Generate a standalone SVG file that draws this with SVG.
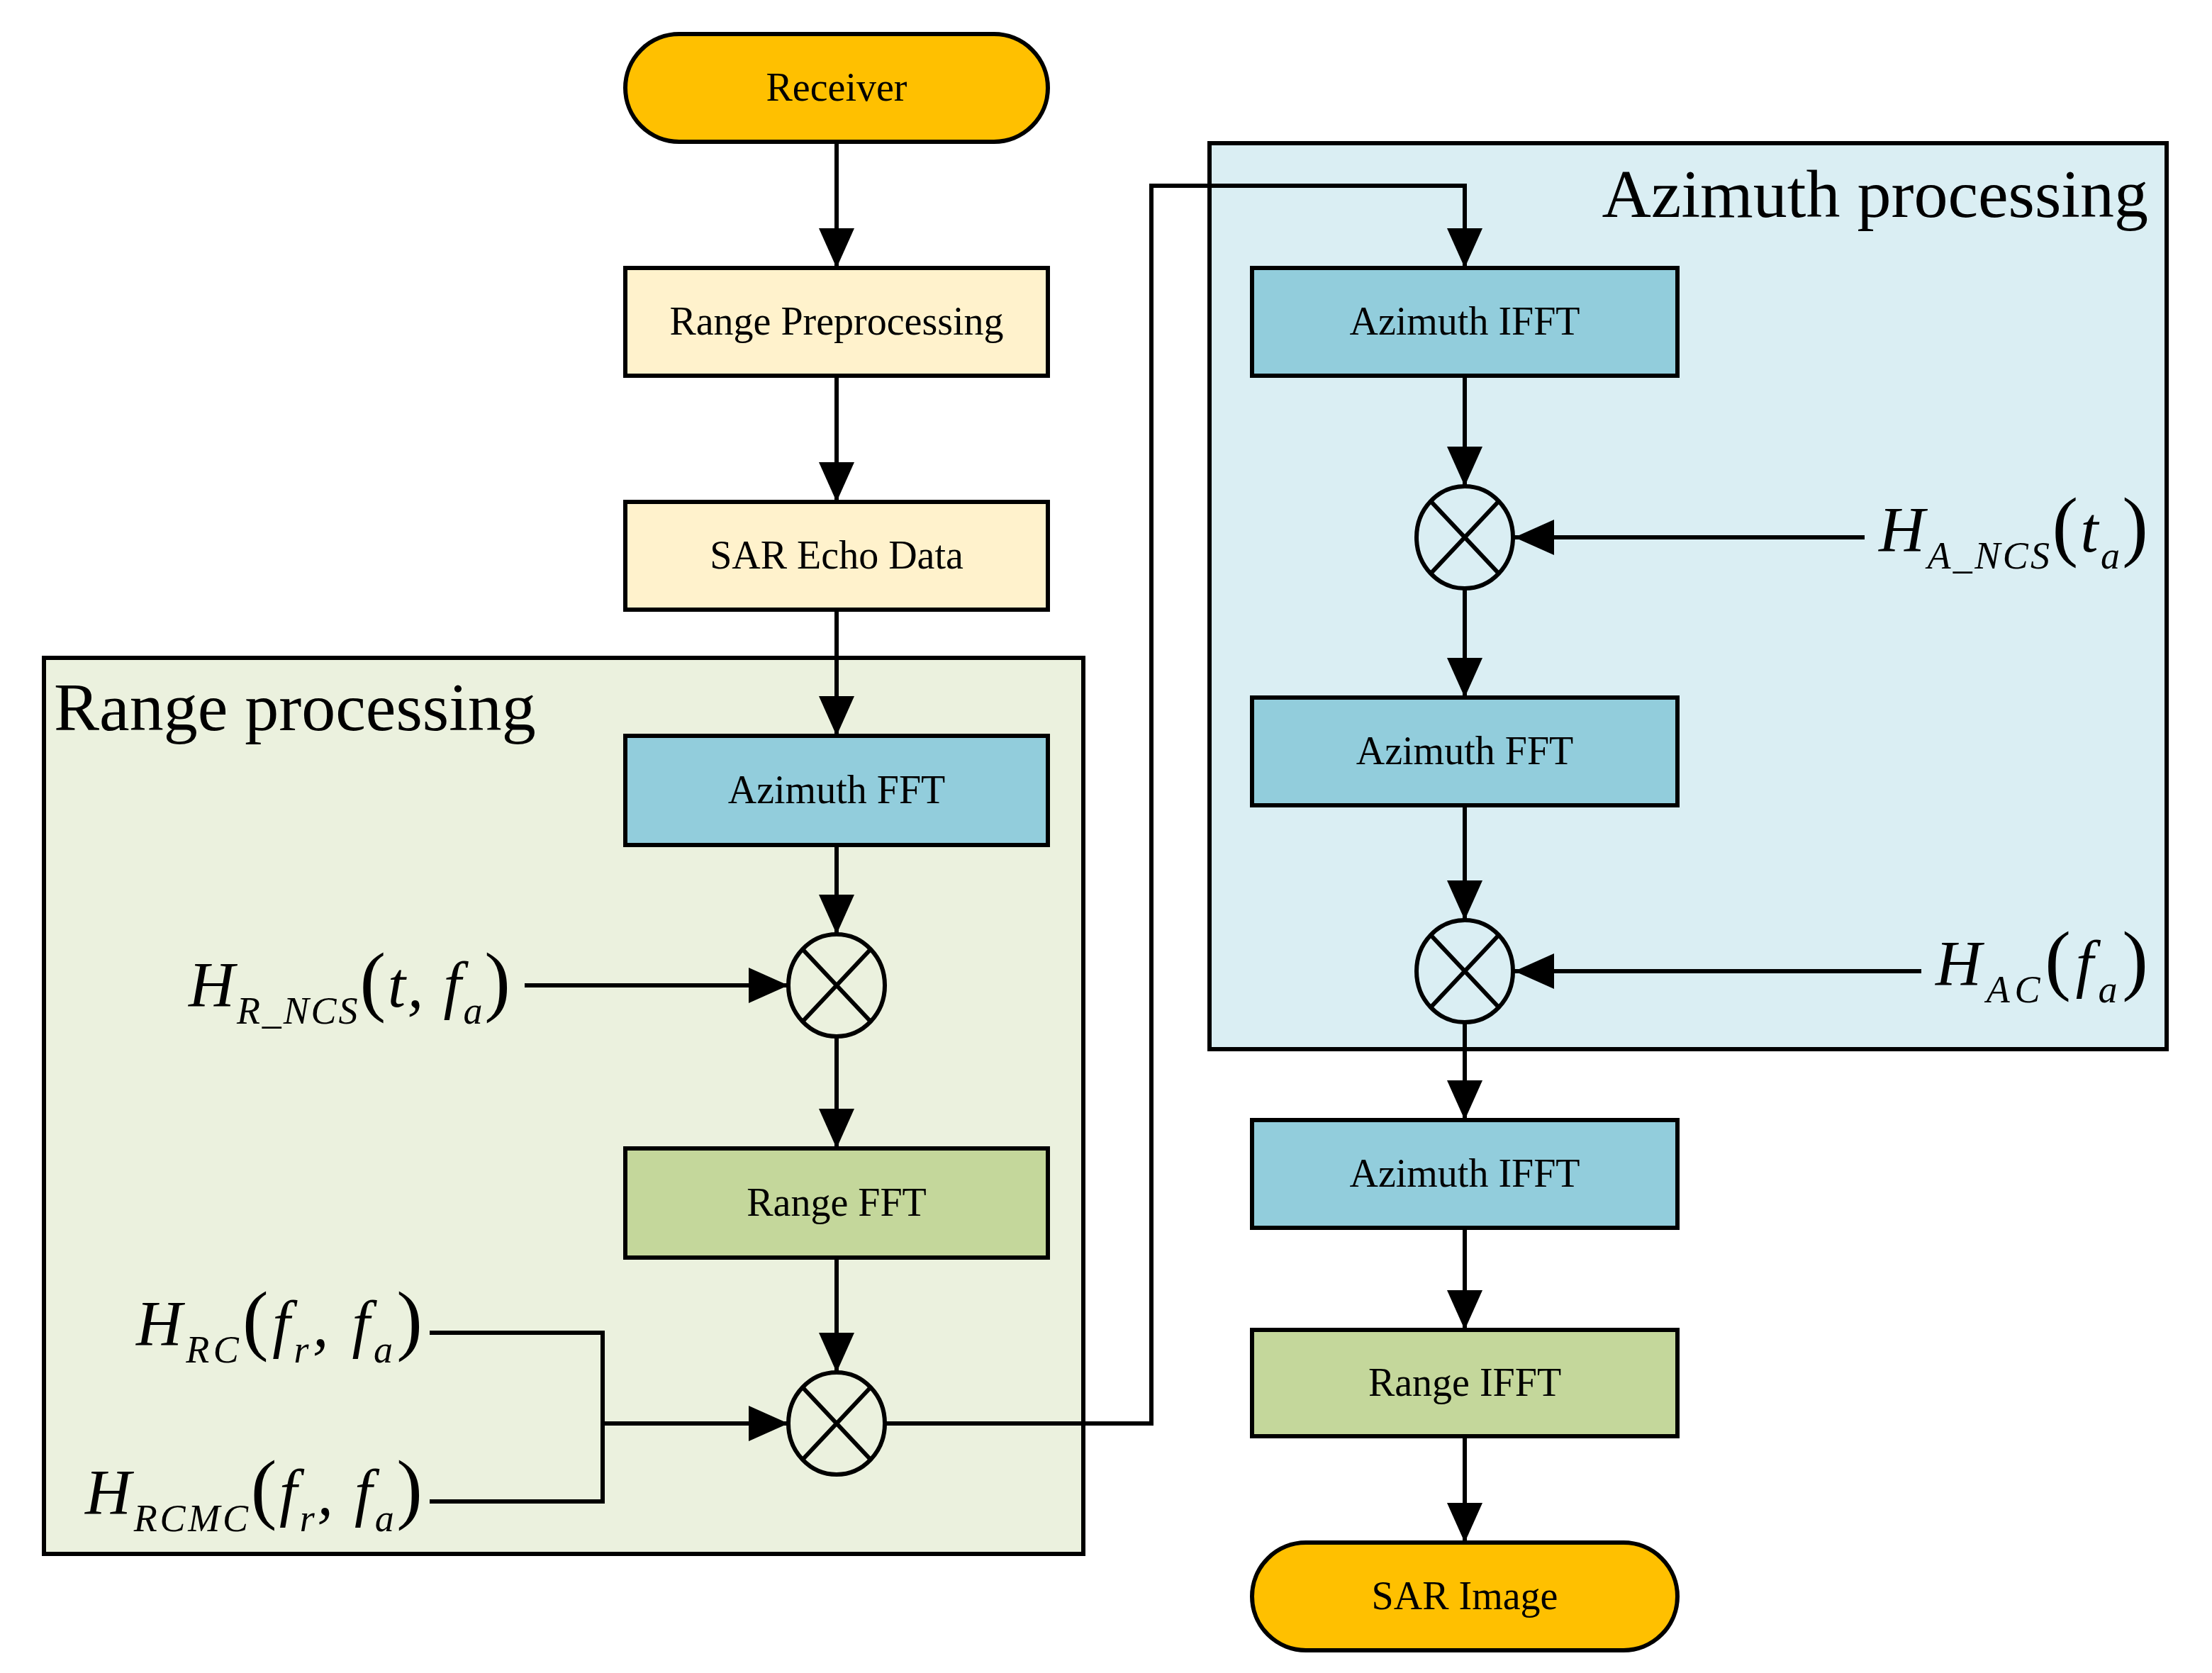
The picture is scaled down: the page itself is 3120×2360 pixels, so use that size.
<svg xmlns="http://www.w3.org/2000/svg" width="3120" height="2360" viewBox="0 0 3120 2360">
<defs>
<style>
.bx{stroke:#000;stroke-width:6}
.t{font-family:"Liberation Serif",serif;font-size:56px;text-anchor:middle}
.ti{font-family:"Liberation Serif",serif;font-size:96px}
.m{font-family:"Liberation Serif",serif;font-style:italic;font-size:90px}
.s{font-size:54px}
.p{font-style:normal;font-size:110px}
.c{fill:none;stroke:#000;stroke-width:6}
.ln{fill:none;stroke:#000;stroke-width:6}
</style>
<marker id="a" markerUnits="userSpaceOnUse" markerWidth="56" markerHeight="50" refX="56" refY="25" orient="auto"><path d="M0,0 L56,25 L0,50 Z" fill="#000"/></marker>
</defs>
<rect width="3120" height="2360" fill="#fff"/>
<g id="range-processing"><rect x="62" y="928" width="1466" height="1264" fill="#EBF1DE" class="bx" stroke-width="4"/><text class="ti" x="76" y="1030">Range processing</text></g>
<g id="azimuth-processing"><rect x="1706" y="202" width="1350" height="1278" fill="#DAEEF3" class="bx" stroke-width="4"/><text class="ti" x="3030" y="306" text-anchor="end">Azimuth processing</text></g>
<g id="connectors">
<line class="ln" x1="1180" y1="200" x2="1180" y2="378" marker-end="url(#a)"/>
<line class="ln" x1="1180" y1="530" x2="1180" y2="708" marker-end="url(#a)"/>
<line class="ln" x1="1180" y1="860" x2="1180" y2="1038" marker-end="url(#a)"/>
<line class="ln" x1="1180" y1="1192" x2="1180" y2="1318" marker-end="url(#a)"/>
<line class="ln" x1="1180" y1="1462" x2="1180" y2="1620" marker-end="url(#a)"/>
<line class="ln" x1="1180" y1="1774" x2="1180" y2="1936" marker-end="url(#a)"/>
<line class="ln" x1="740" y1="1390" x2="1112" y2="1390" marker-end="url(#a)"/>
<polyline class="ln" points="606,1880 850,1880 850,2118 606,2118"/>
<line class="ln" x1="850" y1="2008" x2="1112" y2="2008" marker-end="url(#a)"/>
<polyline class="ln" points="1248,2008 1624,2008 1624,262 2066,262 2066,378" marker-end="url(#a)"/>
<line class="ln" x1="2066" y1="530" x2="2066" y2="686" marker-end="url(#a)"/>
<line class="ln" x1="2066" y1="830" x2="2066" y2="984" marker-end="url(#a)"/>
<line class="ln" x1="2066" y1="1136" x2="2066" y2="1298" marker-end="url(#a)"/>
<line class="ln" x1="2066" y1="1442" x2="2066" y2="1580" marker-end="url(#a)"/>
<line class="ln" x1="2066" y1="1732" x2="2066" y2="1876" marker-end="url(#a)"/>
<line class="ln" x1="2066" y1="2026" x2="2066" y2="2176" marker-end="url(#a)"/>
<line class="ln" x1="2630" y1="758" x2="2136" y2="758" marker-end="url(#a)"/>
<line class="ln" x1="2710" y1="1370" x2="2136" y2="1370" marker-end="url(#a)"/>
</g>
<g id="receiver"><rect x="882" y="48" width="596" height="152" rx="76" fill="#FFC000" class="bx"/><text class="t" x="1180" y="142">Receiver</text></g>
<g id="range-preprocessing"><rect x="882" y="378" width="596" height="152" fill="#FFF2CC" class="bx"/><text class="t" x="1180" y="472">Range Preprocessing</text></g>
<g id="sar-echo"><rect x="882" y="708" width="596" height="152" fill="#FFF2CC" class="bx"/><text class="t" x="1180" y="802">SAR Echo Data</text></g>
<g id="azimuth-fft-1"><rect x="882" y="1038" width="596" height="154" fill="#92CDDC" class="bx"/><text class="t" x="1180" y="1133">Azimuth FFT</text></g>
<g id="mult-1"><ellipse cx="1180" cy="1390" rx="68" ry="72" class="c"/><path class="c" d="M1132,1339 L1228,1441 M1228,1339 L1132,1441"/></g>
<g id="range-fft"><rect x="882" y="1620" width="596" height="154" fill="#C4D79B" class="bx"/><text class="t" x="1180" y="1715">Range FFT</text></g>
<g id="mult-2"><ellipse cx="1180" cy="2008" rx="68" ry="72" class="c"/><path class="c" d="M1132,1957 L1228,2059 M1228,1957 L1132,2059"/></g>
<g id="azimuth-ifft-1"><rect x="1766" y="378" width="600" height="152" fill="#92CDDC" class="bx"/><text class="t" x="2066" y="472">Azimuth IFFT</text></g>
<g id="mult-3"><ellipse cx="2066" cy="758" rx="68" ry="72" class="c"/><path class="c" d="M2018,707 L2114,809 M2114,707 L2018,809"/></g>
<g id="azimuth-fft-2"><rect x="1766" y="984" width="600" height="152" fill="#92CDDC" class="bx"/><text class="t" x="2066" y="1078">Azimuth FFT</text></g>
<g id="mult-4"><ellipse cx="2066" cy="1370" rx="68" ry="72" class="c"/><path class="c" d="M2018,1319 L2114,1421 M2114,1319 L2018,1421"/></g>
<g id="azimuth-ifft-2"><rect x="1766" y="1580" width="600" height="152" fill="#92CDDC" class="bx"/><text class="t" x="2066" y="1674">Azimuth IFFT</text></g>
<g id="range-ifft"><rect x="1766" y="1876" width="600" height="150" fill="#C4D79B" class="bx"/><text class="t" x="2066" y="1969">Range IFFT</text></g>
<g id="sar-image"><rect x="1766" y="2176" width="600" height="152" rx="76" fill="#FFC000" class="bx"/><text class="t" x="2066" y="2270">SAR Image</text></g>
<g id="labels">
<text class="m" x="266" y="1420" textLength="454" lengthAdjust="spacing">H<tspan class="s" dy="24">R_NCS</tspan><tspan class="p" dy="-24">(</tspan>t, f<tspan class="s" dy="24">a</tspan><tspan class="p" dy="-24">)</tspan></text>
<text class="m" x="192" y="1898" textLength="404" lengthAdjust="spacing">H<tspan class="s" dy="24">RC</tspan><tspan class="p" dy="-24">(</tspan>f<tspan class="s" dy="24">r</tspan><tspan dy="-24">, f</tspan><tspan class="s" dy="24">a</tspan><tspan class="p" dy="-24">)</tspan></text>
<text class="m" x="120" y="2136" textLength="476" lengthAdjust="spacing">H<tspan class="s" dy="24">RCMC</tspan><tspan class="p" dy="-24">(</tspan>f<tspan class="s" dy="24">r</tspan><tspan dy="-24">, f</tspan><tspan class="s" dy="24">a</tspan><tspan class="p" dy="-24">)</tspan></text>
<text class="m" x="2650" y="778" textLength="380" lengthAdjust="spacing">H<tspan class="s" dy="24">A_NCS</tspan><tspan class="p" dy="-24">(</tspan>t<tspan class="s" dy="24">a</tspan><tspan class="p" dy="-24">)</tspan></text>
<text class="m" x="2730" y="1390" textLength="300" lengthAdjust="spacing">H<tspan class="s" dy="24">AC</tspan><tspan class="p" dy="-24">(</tspan>f<tspan class="s" dy="24">a</tspan><tspan class="p" dy="-24">)</tspan></text>
</g>
</svg>
